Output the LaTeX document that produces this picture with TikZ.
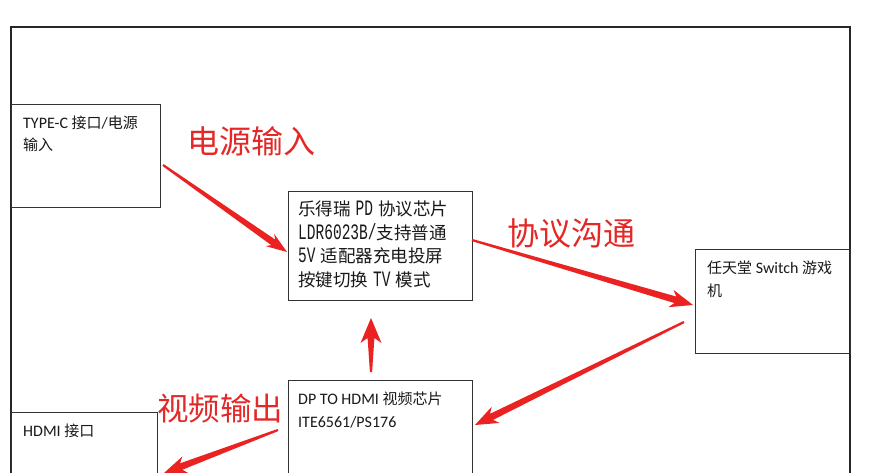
\documentclass[tikz,border=0pt]{standalone}
\usepackage{fontspec}
\setmainfont{Carlito}
\newfontfamily\cjk{Noto Sans CJK SC}
\newfontfamily\cjkbig{Noto Sans CJK SC}
\newfontfamily\pdmono[FakeStretch=0.66]{Liberation Mono}
\usetikzlibrary{calc}
\definecolor{arrowred}{RGB}{234,34,34}
\definecolor{labelred}{RGB}{228,40,40}
\definecolor{boxline}{RGB}{50,50,50}
\newcommand\zh[1]{{\cjk\fontsize{15}{22}\selectfont #1}}
\newcommand\lt[1]{{\pdmono\fontsize{22}{23.5}\selectfont #1}}
\newcommand\gap{\hspace{5pt}}
% fat tapered red arrow from #1 (tail) to #2 (tip); #3 head half-width, #4 head length
\newcommand\fatarrow[4]{%
  \path ($(#2)!#4!(#1)$) coordinate (fa-w) ($(#2)!0.8*#4!(#1)$) coordinate (fa-j);
  \fill[arrowred] ($(#1)!1.1pt!90:(#2)$) -- ($(fa-j)!3.4pt!90:(#2)$) -- ($(fa-w)!#3!90:(#2)$)
    -- (#2) -- ($(fa-w)!#3!-90:(#2)$) -- ($(fa-j)!3.4pt!-90:(#2)$) -- ($(#1)!1.1pt!-90:(#2)$) -- cycle;
}
\begin{document}
\begin{tikzpicture}[x=1pt,y=-1pt,
  frame/.style={draw=black!85, line width=1.3pt},
  box/.style={draw=boxline, line width=0.9pt, anchor=north west, inner sep=0pt, outer sep=0pt},
  txt/.style={anchor=north west, align=left, inner sep=0pt, text=black!90,
    font=\fontsize{16}{22}\selectfont},
  pdtxt/.style={anchor=north west, align=left, inner sep=0pt, text=black!90,
    font=\cjk\fontsize{17.5}{23.5}\selectfont},
  lbl/.style={inner sep=0pt, text=labelred, font=\cjkbig\fontsize{32}{32}\selectfont}]
\useasboundingbox (0,0) rectangle (870,472);
\clip (0,0) rectangle (870,472);
\fill[white] (0,0) rectangle (870,472);
% outer frame
\draw[frame] (11,480) -- (11,27) -- (850,27) -- (850,480);
% boxes
\node[box, minimum width=149, minimum height=103] (typec) at (11,104) {};
\node[box, minimum width=184, minimum height=109] (pd) at (288,191) {};
\node[box, minimum width=155, minimum height=104] (switch) at (695,249) {};
\node[box, minimum width=184, minimum height=110] (dp) at (288,380) {};
\node[box, minimum width=146, minimum height=80] (hdmi) at (11,412) {};
% box texts
\node[txt] (typec-t) at ($(typec.north west)+(12,12)$) {TYPE-C \zh{接口}/\zh{电源}\\\zh{输入}};
\node[pdtxt] (pd-t) at ($(pd.north west)+(10,10)$) {乐得瑞\gap\lt{PD}\gap 协议芯片\\\lt{LDR6023B/}支持普通\\\lt{5V}\gap 适配器充电投屏\\按键切换\gap\lt{TV}\gap 模式};
\node[txt, font=\fontsize{16}{23}\selectfont] (switch-t) at ($(switch.north west)+(12,12)$) {\zh{任天堂} Switch \zh{游戏}\\\zh{机}};
\node[txt, font=\fontsize{16}{23}\selectfont] (dp-t) at ($(dp.north west)+(10,12)$) {DP TO HDMI \zh{视频芯片}\\ITE6561/PS176};
\node[txt] (hdmi-t) at ($(hdmi.north west)+(12,12)$) {HDMI \zh{接口}};
% red labels
\node[lbl] (l-power) at (251,141) {电源输入};
\node[lbl] (l-proto) at (571,233) {协议沟通};
\node[lbl, font=\cjkbig\fontsize{31.5}{32}\selectfont] (l-video) at (220,409) {视频输出};
% arrow end points
\coordinate (a1s) at (163,165); \coordinate (a1e) at (287,252);
\coordinate (a2s) at (472,240); \coordinate (a2e) at (693,305);
\coordinate (a3s) at (684,322); \coordinate (a3e) at (475,425);
\coordinate (a4s) at (371,372); \coordinate (a4e) at (371,318);
\coordinate (a5s) at (278,430); \coordinate (a5e) at (164,473);
\fatarrow{a1s}{a1e}{7.5pt}{21pt}
\fatarrow{a2s}{a2e}{9pt}{23pt}
\fatarrow{a3s}{a3e}{9pt}{23pt}
\fatarrow{a4s}{a4e}{10.5pt}{25pt}
\fatarrow{a5s}{a5e}{9pt}{23pt}
\end{tikzpicture}
\end{document}
